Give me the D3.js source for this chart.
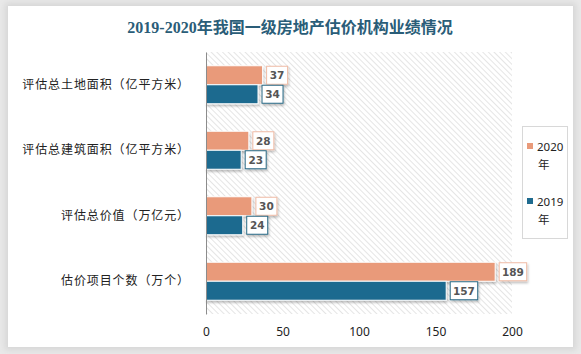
<!DOCTYPE html>
<html>
<head>
<meta charset="utf-8">
<script src="https://cdn.jsdelivr.net/npm/d3@7"></script>
<style>
  html, body { margin: 0; padding: 0; background: #e9e9e9; }
  #card { position: absolute; left: 8px; top: 6px; width: 565px; height: 341px; background: #fff;
          box-shadow: 0 0 6px 3px #d6d6d6; }
  svg { position: absolute; left: 0; top: 0; }
</style>
</head>
<body>
<div id="card"></div>
<svg id="chart" width="581" height="354"></svg>
<script>
var categories = ["评估总土地面积（亿平方米）", "评估总建筑面积（亿平方米）", "评估总价值（万亿元）", "估价项目个数（万个）"];
var seriesNames = ["2020年", "2019年"];
var values2020 = [37, 28, 30, 189];
var values2019 = [34, 23, 24, 157];
var xTicks = [0, 50, 100, 150, 200];

var colors = {"2020年": "#e99a7a", "2019年": "#1f6b8f"};
var labelBorder = {"2020年": "#f0bca6", "2019年": "#2a6a86"};

var svg = d3.select("#chart");
var plotLeft = 206, plotRight = 512, plotTop = 52, plotBottom = 314;

var x = d3.scaleLinear().domain([0, 200]).range([plotLeft, plotRight]);
var y = d3.scaleBand().domain(categories).range([plotTop, plotBottom]).paddingInner(0.42).paddingOuter(0.21);
var ySub = d3.scaleBand().domain(seriesNames).range([0, y.bandwidth()]);

var defs = svg.append("defs");
var pat = defs.append("pattern").attr("id", "hatch").attr("width", 4).attr("height", 4)
    .attr("patternUnits", "userSpaceOnUse").attr("patternTransform", "rotate(-45)");
pat.append("rect").attr("width", 4).attr("height", 4).attr("fill", "#fff");
pat.append("line").attr("x1", 0).attr("y1", 0).attr("x2", 0).attr("y2", 4)
    .attr("stroke", "#d4d4d4").attr("stroke-width", 1.2);

var sh = defs.append("filter").attr("id", "shadow").attr("x", "-10%").attr("y", "-20%").attr("width", "130%").attr("height", "160%");
sh.append("feDropShadow").attr("dx", 1).attr("dy", 2).attr("stdDeviation", 1).attr("flood-color", "#000").attr("flood-opacity", 0.25);

// title
svg.append("text").attr("x", 290).attr("y", 33).attr("text-anchor", "middle")
    .style("font-family", "'Liberation Serif', 'Noto Sans CJK SC', serif")
    .style("font-size", "16px").style("font-weight", "bold").attr("fill", "#2a5d78")
    .text("2019-2020年我国一级房地产估价机构业绩情况");

// plot background
svg.append("rect").attr("x", plotLeft).attr("y", plotTop).attr("width", plotRight - plotLeft).attr("height", plotBottom - plotTop)
    .attr("fill", "url(#hatch)");

// bars
var rows = [];
categories.forEach(function(c, i) {
  rows.push({cat: c, s: "2020年", v: values2020[i]});
  rows.push({cat: c, s: "2019年", v: values2019[i]});
});

var g = svg.append("g");
g.selectAll("rect.bar").data(rows).enter().append("rect")
    .attr("class", "bar")
    .attr("x", x(0))
    .attr("y", function(d) { return y(d.cat) + ySub(d.s); })
    .attr("width", function(d) { return x(d.v) - x(0); })
    .attr("height", ySub.bandwidth())
    .attr("fill", function(d) { return colors[d.s]; })
    .attr("stroke", "#fff").attr("stroke-width", 1)
    .attr("filter", "url(#shadow)");

// value labels
function boxW(v) { return String(v).length * 6.5 + 8; }
var lab = g.selectAll("g.lab").data(rows).enter().append("g")
    .attr("class", "lab")
    .attr("transform", function(d) { return "translate(" + (x(d.v) + 4) + "," + (y(d.cat) + ySub(d.s) + ySub.bandwidth() / 2) + ")"; });
lab.append("rect")
    .attr("x", 0).attr("y", -9)
    .attr("width", function(d) { return boxW(d.v); })
    .attr("height", 18)
    .attr("fill", "#fff")
    .attr("stroke", function(d) { return labelBorder[d.s]; })
    .attr("filter", "url(#shadow)");
lab.append("text")
    .attr("x", function(d) { return boxW(d.v) / 2; })
    .attr("y", 4)
    .attr("text-anchor", "middle")
    .style("font-family", "'DejaVu Sans', sans-serif").style("font-size", "10.5px").style("font-weight", "bold")
    .attr("fill", "#555")
    .text(function(d) { return d.v; });

// y axis
var yAxis = svg.append("g").attr("transform", "translate(" + plotLeft + ",0)")
    .call(d3.axisLeft(y).tickSize(0).tickPadding(16));
yAxis.select(".domain").attr("stroke", "#8c8c8c");
yAxis.selectAll("text")
    .style("font-family", "'Noto Sans CJK SC', sans-serif").style("font-size", "12px")
    .style("letter-spacing", "0.9px").attr("fill", "#222");

// x axis
var xAxis = svg.append("g").attr("transform", "translate(0," + plotBottom + ")")
    .call(d3.axisBottom(x).tickValues(xTicks).tickSize(0).tickPadding(13));
xAxis.select(".domain").remove();
xAxis.selectAll("text")
    .style("font-family", "'Noto Sans', sans-serif").style("font-size", "12px").attr("fill", "#222");

// legend
var lg = svg.append("g");
lg.append("rect").attr("x", 522.5).attr("y", 126.5).attr("width", 45).attr("height", 112)
    .attr("fill", "#fff").attr("stroke", "#d8d8d8");
var items = lg.selectAll("g.item").data(seriesNames).enter().append("g")
    .attr("transform", function(d, i) { return "translate(527," + (151 + i * 55) + ")"; });
items.append("rect").attr("x", 0).attr("y", -8).attr("width", 6).attr("height", 6)
    .attr("fill", function(d) { return colors[d]; });
items.append("text").attr("x", 10).attr("y", 0)
    .style("font-family", "'Noto Sans', 'Noto Sans CJK SC', sans-serif").style("font-size", "11.5px").attr("fill", "#222")
    .text(function(d) { return d.slice(0, 4); });
items.append("text").attr("x", 11).attr("y", 18)
    .style("font-family", "'Noto Sans CJK SC', sans-serif").style("font-size", "11.5px").attr("fill", "#222")
    .text(function(d) { return d.slice(4); });
</script>
</body>
</html>
